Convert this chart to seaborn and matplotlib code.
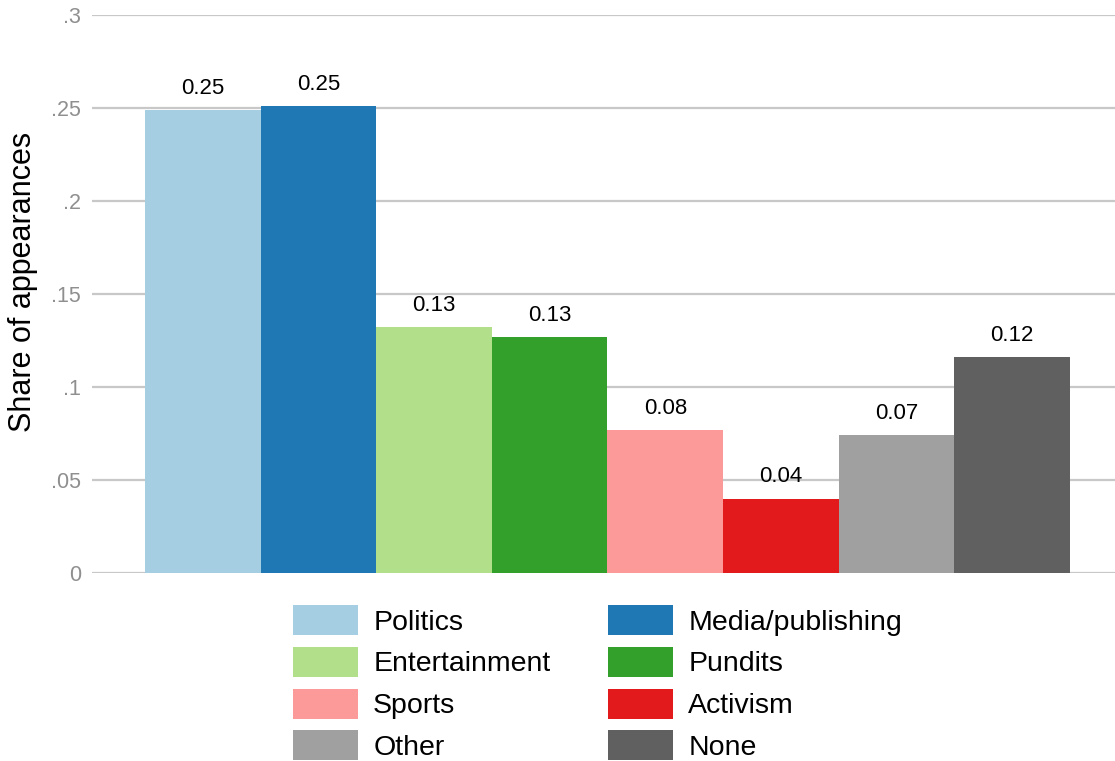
import matplotlib
matplotlib.use("Agg")
import matplotlib.pyplot as plt
from matplotlib.patches import Patch
import seaborn as sns
import pandas as pd

categories = ["Politics", "Media/publishing", "Entertainment", "Pundits",
              "Sports", "Activism", "Other", "None"]
shares = [0.249, 0.251, 0.132, 0.127, 0.077, 0.040, 0.074, 0.116]
colors = ["#a6cee3", "#1f78b4", "#b2df8a", "#33a02c",
          "#fb9a99", "#e31a1c", "#a0a0a0", "#606060"]
ytick_values = [0, 0.05, 0.1, 0.15, 0.2, 0.25, 0.3]
ytick_labels = ["0", ".05", ".1", ".15", ".2", ".25", ".3"]

sns.set_theme(style="white")
plt.rcParams["font.family"] = ["Liberation Sans", "DejaVu Sans"]
plt.rcParams["text.color"] = "black"

df = pd.DataFrame({"category": categories, "share": shares})

fig = plt.figure(figsize=(11.15, 7.61), dpi=100)
ax = fig.add_axes([92 / 1115, 1 - 573 / 761, 1 - 92 / 1115, (573 - 15) / 761])

sns.barplot(data=df, x="category", y="share", hue="category",
            palette=dict(zip(categories, colors)), order=categories,
            hue_order=categories, width=1.0, dodge=False, legend=False,
            saturation=1, linewidth=0, ax=ax, zorder=3)

for cont in ax.containers:
    ax.bar_label(cont, fmt="%.2f", padding=8, fontsize=16, color="black")

ax.set_xlim(-0.958, 7.889)
ax.set_ylim(0, 0.3)
ax.set_yticks(ytick_values)
ax.set_yticklabels(ytick_labels)
ax.tick_params(axis="y", length=0, pad=8, labelsize=15.5, labelcolor="#8f8f8f")
ax.set_xticks([])
ax.set_xlabel("")
ax.set_ylabel("Share of appearances", fontsize=22, color="black")
ax.yaxis.set_label_coords(-0.053, 0.5215)
ax.yaxis.grid(True, color="#c8c8c8", linewidth=1.6, zorder=0)
ax.set_axisbelow(True)
for side in ["top", "right", "left", "bottom"]:
    ax.spines[side].set_visible(False)

# legend laid out row by row: two entries per row
order = [0, 2, 4, 6, 1, 3, 5, 7]
handles = [Patch(facecolor=colors[i], edgecolor="none") for i in order]
labels = [categories[i] for i in order]
fig.legend(handles, labels, loc="upper center", bbox_to_anchor=(0.5359, 1 - 591 / 761),
           ncol=2, frameon=False, fontsize=20.5, handlelength=2.28, handleheight=1.243,
           handletextpad=0.53, labelspacing=0.39, columnspacing=2.03, borderpad=0,
           labelcolor="black")

fig.savefig("out.png", dpi=100)
